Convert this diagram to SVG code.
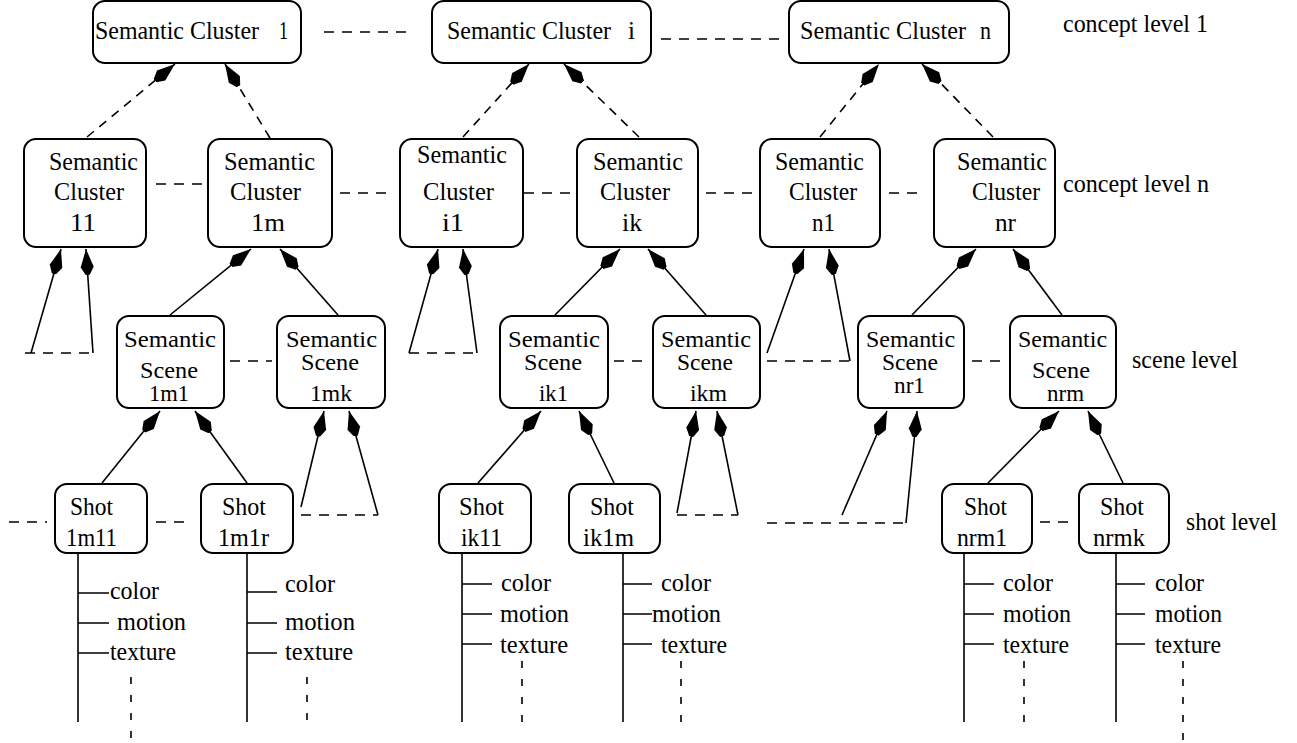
<svg xmlns="http://www.w3.org/2000/svg" width="1297" height="743" viewBox="0 0 1297 743">
  <style>
    .box { fill: #fff; stroke: #000; stroke-width: 2; }
    .t { font-family: "Liberation Serif", "Times New Roman", serif; font-size: 26px; fill: #000; }
    .s { font-size: 24px; }
    .ln { stroke: #000; stroke-width: 1.6; fill: none; }
    .dl { stroke: #000; stroke-width: 1.6; fill: none; stroke-dasharray: 10 8; }
    .da { stroke: #000; stroke-width: 1.6; fill: none; stroke-dasharray: 9 7; }
    .dv { stroke: #000; stroke-width: 1.6; fill: none; stroke-dasharray: 7 11; }
    .arr { marker-end: url(#kite); }
  </style>
  <defs>
    <marker id="kite" viewBox="0 0 26 14" refX="26" refY="7" markerWidth="26" markerHeight="14" markerUnits="userSpaceOnUse" orient="auto">
      <path d="M26,7 L8,0.5 L0,5 L0,9 L8,13.5 Z" fill="#000" stroke="none"/>
    </marker>
  </defs>

  <!-- concept level 1 -->
  <g id="sc1">
    <rect class="box" x="93" y="1" width="208" height="62" rx="12"/>
    <text class="t" x="95" y="39" textLength="164" lengthAdjust="spacingAndGlyphs">Semantic Cluster</text>
    <text class="t" x="279" y="39" textLength="9" lengthAdjust="spacingAndGlyphs">1</text>
  </g>
  <g id="sci">
    <rect class="box" x="432" y="1" width="219" height="62" rx="12"/>
    <text class="t" x="447" y="39" textLength="164" lengthAdjust="spacingAndGlyphs">Semantic Cluster</text>
    <text class="t" x="628" y="39" textLength="7" lengthAdjust="spacingAndGlyphs">i</text>
  </g>
  <g id="scn">
    <rect class="box" x="789" y="1" width="220" height="62" rx="12"/>
    <text class="t" x="800" y="39" textLength="166" lengthAdjust="spacingAndGlyphs">Semantic Cluster</text>
    <text class="t" x="980" y="39" textLength="11" lengthAdjust="spacingAndGlyphs">n</text>
  </g>

  <!-- concept level n -->
  <g id="sc11">
    <rect class="box" x="24" y="139" width="122" height="108" rx="12"/>
    <text class="t" x="49" y="170" textLength="89" lengthAdjust="spacingAndGlyphs">Semantic</text>
    <text class="t" x="54" y="200" textLength="70" lengthAdjust="spacingAndGlyphs">Cluster</text>
    <text class="t" x="70" y="231" textLength="26" lengthAdjust="spacingAndGlyphs">11</text>
  </g>
  <g id="sc1m">
    <rect class="box" x="208" y="139" width="124" height="108" rx="12"/>
    <text class="t" x="224" y="170" textLength="91" lengthAdjust="spacingAndGlyphs">Semantic</text>
    <text class="t" x="230" y="200" textLength="71" lengthAdjust="spacingAndGlyphs">Cluster</text>
    <text class="t" x="251" y="231" textLength="34" lengthAdjust="spacingAndGlyphs">1m</text>
  </g>
  <g id="sci1">
    <rect class="box" x="400" y="139" width="123" height="108" rx="12"/>
    <text class="t" x="417" y="163" textLength="90" lengthAdjust="spacingAndGlyphs">Semantic</text>
    <text class="t" x="423" y="200" textLength="71" lengthAdjust="spacingAndGlyphs">Cluster</text>
    <text class="t" x="442" y="231" textLength="22" lengthAdjust="spacingAndGlyphs">i1</text>
  </g>
  <g id="scik">
    <rect class="box" x="577" y="139" width="121" height="108" rx="12"/>
    <text class="t" x="593" y="170" textLength="90" lengthAdjust="spacingAndGlyphs">Semantic</text>
    <text class="t" x="600" y="200" textLength="70" lengthAdjust="spacingAndGlyphs">Cluster</text>
    <text class="t" x="622" y="231" textLength="20" lengthAdjust="spacingAndGlyphs">ik</text>
  </g>
  <g id="scn1">
    <rect class="box" x="760" y="139" width="120" height="108" rx="12"/>
    <text class="t" x="775" y="170" textLength="89" lengthAdjust="spacingAndGlyphs">Semantic</text>
    <text class="t" x="789" y="200" textLength="68" lengthAdjust="spacingAndGlyphs">Cluster</text>
    <text class="t" x="812" y="231" textLength="23" lengthAdjust="spacingAndGlyphs">n1</text>
  </g>
  <g id="scnr">
    <rect class="box" x="934" y="139" width="121" height="108" rx="12"/>
    <text class="t" x="957" y="170" textLength="90" lengthAdjust="spacingAndGlyphs">Semantic</text>
    <text class="t" x="972" y="200" textLength="68" lengthAdjust="spacingAndGlyphs">Cluster</text>
    <text class="t" x="995" y="231" textLength="21" lengthAdjust="spacingAndGlyphs">nr</text>
  </g>

  <!-- scene level -->
  <g id="ss1m1">
    <rect class="box" x="117" y="316" width="107" height="92" rx="12"/>
    <text class="t s" x="124" y="347" textLength="92" lengthAdjust="spacingAndGlyphs">Semantic</text>
    <text class="t s" x="140" y="378" textLength="58" lengthAdjust="spacingAndGlyphs">Scene</text>
    <text class="t s" x="149" y="401" textLength="40" lengthAdjust="spacingAndGlyphs">1m1</text>
  </g>
  <g id="ss1mk">
    <rect class="box" x="277" y="316" width="108" height="92" rx="12"/>
    <text class="t s" x="286" y="347" textLength="91" lengthAdjust="spacingAndGlyphs">Semantic</text>
    <text class="t s" x="301" y="370" textLength="58" lengthAdjust="spacingAndGlyphs">Scene</text>
    <text class="t s" x="310" y="401" textLength="42" lengthAdjust="spacingAndGlyphs">1mk</text>
  </g>
  <g id="ssik1">
    <rect class="box" x="500" y="316" width="108" height="92" rx="12"/>
    <text class="t s" x="508" y="347" textLength="92" lengthAdjust="spacingAndGlyphs">Semantic</text>
    <text class="t s" x="524" y="370" textLength="58" lengthAdjust="spacingAndGlyphs">Scene</text>
    <text class="t s" x="539" y="401" textLength="29" lengthAdjust="spacingAndGlyphs">ik1</text>
  </g>
  <g id="ssikm">
    <rect class="box" x="653" y="316" width="107" height="92" rx="12"/>
    <text class="t s" x="661" y="347" textLength="90" lengthAdjust="spacingAndGlyphs">Semantic</text>
    <text class="t s" x="677" y="370" textLength="56" lengthAdjust="spacingAndGlyphs">Scene</text>
    <text class="t s" x="690" y="401" textLength="37" lengthAdjust="spacingAndGlyphs">ikm</text>
  </g>
  <g id="ssnr1">
    <rect class="box" x="858" y="316" width="106" height="92" rx="12"/>
    <text class="t s" x="866" y="347" textLength="89" lengthAdjust="spacingAndGlyphs">Semantic</text>
    <text class="t s" x="882" y="370" textLength="56" lengthAdjust="spacingAndGlyphs">Scene</text>
    <text class="t s" x="894" y="393" textLength="31" lengthAdjust="spacingAndGlyphs">nr1</text>
  </g>
  <g id="ssnrm">
    <rect class="box" x="1010" y="316" width="106" height="92" rx="12"/>
    <text class="t s" x="1018" y="347" textLength="89" lengthAdjust="spacingAndGlyphs">Semantic</text>
    <text class="t s" x="1032" y="378" textLength="58" lengthAdjust="spacingAndGlyphs">Scene</text>
    <text class="t s" x="1047" y="401" textLength="37" lengthAdjust="spacingAndGlyphs">nrm</text>
  </g>

  <!-- shot level -->
  <g id="shot1m11">
    <rect class="box" x="55" y="484" width="92" height="69" rx="12"/>
    <text class="t" x="70" y="515" textLength="43" lengthAdjust="spacingAndGlyphs">Shot</text>
    <text class="t" x="66" y="546" textLength="51" lengthAdjust="spacingAndGlyphs">1m11</text>
  </g>
  <g id="shot1m1r">
    <rect class="box" x="201" y="484" width="92" height="69" rx="12"/>
    <text class="t" x="222" y="515" textLength="44" lengthAdjust="spacingAndGlyphs">Shot</text>
    <text class="t" x="218" y="546" textLength="51" lengthAdjust="spacingAndGlyphs">1m1r</text>
  </g>
  <g id="shotik11">
    <rect class="box" x="439" y="484" width="92" height="69" rx="12"/>
    <text class="t" x="459" y="515" textLength="45" lengthAdjust="spacingAndGlyphs">Shot</text>
    <text class="t" x="461" y="546" textLength="41" lengthAdjust="spacingAndGlyphs">ik11</text>
  </g>
  <g id="shotik1m">
    <rect class="box" x="569" y="484" width="91" height="69" rx="12"/>
    <text class="t" x="590" y="515" textLength="44" lengthAdjust="spacingAndGlyphs">Shot</text>
    <text class="t" x="583" y="546" textLength="51" lengthAdjust="spacingAndGlyphs">ik1m</text>
  </g>
  <g id="shotnrm1">
    <rect class="box" x="942" y="484" width="90" height="69" rx="12"/>
    <text class="t" x="964" y="515" textLength="43" lengthAdjust="spacingAndGlyphs">Shot</text>
    <text class="t" x="957" y="546" textLength="50" lengthAdjust="spacingAndGlyphs">nrm1</text>
  </g>
  <g id="shotnrmk">
    <rect class="box" x="1079" y="484" width="90" height="69" rx="12"/>
    <text class="t" x="1100" y="515" textLength="44" lengthAdjust="spacingAndGlyphs">Shot</text>
    <text class="t" x="1093" y="546" textLength="52" lengthAdjust="spacingAndGlyphs">nrmk</text>
  </g>

  <!-- level captions -->
  <g id="levels">
    <text class="t" x="1063" y="32" textLength="145" lengthAdjust="spacingAndGlyphs">concept level 1</text>
    <text class="t" x="1063" y="192" textLength="146" lengthAdjust="spacingAndGlyphs">concept level n</text>
    <text class="t" x="1132" y="368" textLength="106" lengthAdjust="spacingAndGlyphs">scene level</text>
    <text class="t" x="1186" y="530" textLength="91" lengthAdjust="spacingAndGlyphs">shot level</text>
  </g>

  <!-- connectors -->
  <g id="connectors">
    <!-- dashed links between siblings -->
    <line class="dl" x1="324" y1="32" x2="410" y2="32"/>
    <line class="dl" x1="661" y1="39" x2="781" y2="39"/>
    <line class="dl" x1="156" y1="184" x2="202" y2="184"/>
    <line class="dl" x1="340" y1="193" x2="386" y2="193"/>
    <line class="dl" x1="524" y1="193" x2="570" y2="193"/>
    <line class="dl" x1="706" y1="193" x2="752" y2="193"/>
    <line class="dl" x1="889" y1="193" x2="917" y2="193"/>
    <line class="dl" x1="230" y1="361" x2="272" y2="361"/>
    <line class="dl" x1="614" y1="361" x2="647" y2="361"/>
    <line class="dl" x1="972" y1="361" x2="1000" y2="361"/>
    <line class="dl" x1="9" y1="522" x2="47" y2="522"/>
    <line class="dl" x1="156" y1="522" x2="184" y2="522"/>
    <line class="dl" x1="1040" y1="522" x2="1068" y2="522"/>

    <!-- concept level n to concept level 1 -->
    <line class="da arr" x1="87" y1="137" x2="175" y2="64"/>
    <line class="da arr" x1="270" y1="138" x2="225" y2="64"/>
    <line class="da arr" x1="463" y1="137" x2="529" y2="64"/>
    <line class="da arr" x1="639" y1="137" x2="564" y2="64"/>
    <line class="da arr" x1="820" y1="137" x2="879" y2="64"/>
    <line class="da arr" x1="993" y1="137" x2="922" y2="64"/>

    <!-- scene level to concept level n -->
    <line class="ln arr" x1="170" y1="315" x2="251" y2="249"/>
    <line class="ln arr" x1="338" y1="315" x2="280" y2="249"/>
    <line class="ln arr" x1="555" y1="315" x2="620" y2="249"/>
    <line class="ln arr" x1="706" y1="315" x2="648" y2="249"/>
    <line class="ln arr" x1="912" y1="315" x2="976" y2="249"/>
    <line class="ln arr" x1="1062" y1="315" x2="1013" y2="249"/>

    <!-- open-ended links into concept level n -->
    <line class="ln arr" x1="31" y1="353" x2="61" y2="249"/>
    <line class="ln arr" x1="93" y1="353" x2="86" y2="249"/>
    <line class="dl" x1="25" y1="353" x2="93" y2="353"/>
    <line class="ln arr" x1="409" y1="353" x2="438" y2="249"/>
    <line class="ln arr" x1="477" y1="353" x2="463" y2="249"/>
    <line class="dl" x1="409" y1="353" x2="477" y2="353"/>
    <line class="ln arr" x1="767" y1="353" x2="804" y2="249"/>
    <line class="ln arr" x1="850" y1="361" x2="829" y2="249"/>
    <line class="dl" x1="767" y1="361" x2="850" y2="361"/>

    <!-- shot level to scene level -->
    <line class="ln arr" x1="102" y1="483" x2="160" y2="411"/>
    <line class="ln arr" x1="247" y1="483" x2="195" y2="411"/>
    <line class="ln arr" x1="478" y1="483" x2="541" y2="411"/>
    <line class="ln arr" x1="614" y1="483" x2="579" y2="411"/>
    <line class="ln arr" x1="988" y1="483" x2="1059" y2="411"/>
    <line class="ln arr" x1="1123" y1="483" x2="1088" y2="411"/>

    <!-- open-ended links into scene level -->
    <line class="ln arr" x1="301" y1="507" x2="324" y2="411"/>
    <line class="ln arr" x1="378" y1="515" x2="349" y2="411"/>
    <line class="dl" x1="301" y1="515" x2="378" y2="515"/>
    <line class="ln arr" x1="677" y1="513" x2="696" y2="411"/>
    <line class="ln arr" x1="738" y1="515" x2="717" y2="411"/>
    <line class="dl" x1="677" y1="515" x2="738" y2="515"/>
    <line class="ln arr" x1="842" y1="515" x2="887" y2="411"/>
    <line class="ln arr" x1="906" y1="523" x2="917" y2="411"/>
    <line class="dl" x1="767" y1="523" x2="906" y2="523"/>
  </g>

  <!-- low-level features of each shot -->
  <g id="features-1m11">
    <path class="ln" d="M78,553 V722 M78,593 H109 M78,623 H109 M78,653 H109"/>
    <line class="dv" x1="131" y1="677" x2="131" y2="740"/>
    <text class="t" x="110" y="599" textLength="49" lengthAdjust="spacingAndGlyphs">color</text>
    <text class="t" x="117" y="630" textLength="69" lengthAdjust="spacingAndGlyphs">motion</text>
    <text class="t" x="110" y="660" textLength="66" lengthAdjust="spacingAndGlyphs">texture</text>
  </g>
  <g id="features-1m1r">
    <path class="ln" d="M247,553 V722 M247,592 H277 M247,623 H277 M247,653 H277"/>
    <line class="dv" x1="307" y1="677" x2="307" y2="724"/>
    <text class="t" x="285" y="592" textLength="50" lengthAdjust="spacingAndGlyphs">color</text>
    <text class="t" x="285" y="630" textLength="70" lengthAdjust="spacingAndGlyphs">motion</text>
    <text class="t" x="285" y="660" textLength="68" lengthAdjust="spacingAndGlyphs">texture</text>
  </g>
  <g id="features-ik11">
    <path class="ln" d="M462,553 V722 M462,584 H492 M462,614 H492 M462,644 H492"/>
    <line class="dv" x1="522" y1="661" x2="522" y2="726"/>
    <text class="t" x="501" y="591" textLength="50" lengthAdjust="spacingAndGlyphs">color</text>
    <text class="t" x="500" y="622" textLength="69" lengthAdjust="spacingAndGlyphs">motion</text>
    <text class="t" x="500" y="653" textLength="68" lengthAdjust="spacingAndGlyphs">texture</text>
  </g>
  <g id="features-ik1m">
    <path class="ln" d="M623,553 V722 M623,584 H652 M623,614 H652 M623,644 H652"/>
    <line class="dv" x1="681" y1="661" x2="681" y2="726"/>
    <text class="t" x="661" y="591" textLength="50" lengthAdjust="spacingAndGlyphs">color</text>
    <text class="t" x="652" y="622" textLength="69" lengthAdjust="spacingAndGlyphs">motion</text>
    <text class="t" x="661" y="653" textLength="66" lengthAdjust="spacingAndGlyphs">texture</text>
  </g>
  <g id="features-nrm1">
    <path class="ln" d="M964,553 V722 M964,584 H994 M964,614 H994 M964,644 H994"/>
    <line class="dv" x1="1024" y1="661" x2="1024" y2="726"/>
    <text class="t" x="1003" y="591" textLength="50" lengthAdjust="spacingAndGlyphs">color</text>
    <text class="t" x="1003" y="622" textLength="68" lengthAdjust="spacingAndGlyphs">motion</text>
    <text class="t" x="1003" y="653" textLength="66" lengthAdjust="spacingAndGlyphs">texture</text>
  </g>
  <g id="features-nrmk">
    <path class="ln" d="M1116,553 V722 M1116,584 H1145 M1116,614 H1145 M1116,644 H1145"/>
    <line class="dv" x1="1183" y1="661" x2="1183" y2="740"/>
    <text class="t" x="1155" y="591" textLength="49" lengthAdjust="spacingAndGlyphs">color</text>
    <text class="t" x="1155" y="622" textLength="67" lengthAdjust="spacingAndGlyphs">motion</text>
    <text class="t" x="1155" y="653" textLength="66" lengthAdjust="spacingAndGlyphs">texture</text>
  </g>
</svg>
